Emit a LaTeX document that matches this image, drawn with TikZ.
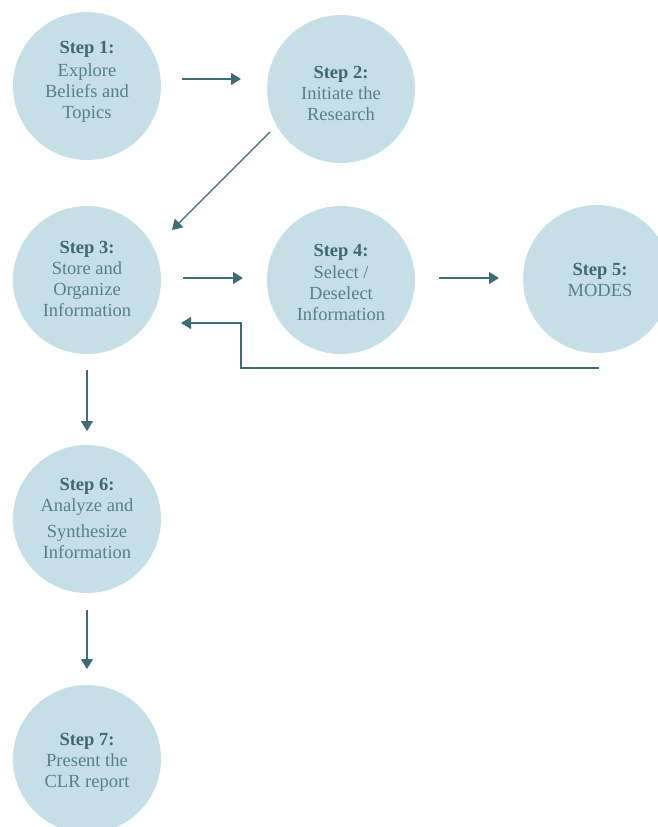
\documentclass[tikz,border=0pt]{standalone}
\usepackage{fontspec}
\setmainfont{Liberation Serif}
\usetikzlibrary{arrows.meta}
\definecolor{circfill}{HTML}{C6DFE7}
\definecolor{arrowcol}{HTML}{3F6D75}
\definecolor{diagcol}{HTML}{5E757A}
\definecolor{txtcol}{HTML}{587F88}
\definecolor{boldcol}{HTML}{41686F}
\tikzset{
  stepcirc/.style={circle, fill=circfill, draw=none, minimum size=148pt, inner sep=0pt},
  steptext/.style={align=center, text=txtcol, inner sep=0pt, font=\fontsize{18.5}{21}\selectfont},
  flowarrow/.style={draw=arrowcol, line width=1.4pt, -{Triangle[length=10pt,width=12pt]}},
  diagarrow/.style={draw=diagcol, line width=1.2pt, -{Triangle[length=10pt,width=12pt]}, arrowcol}
}
\newcommand{\stephead}[1]{{\bfseries\color{boldcol}#1}}
\begin{document}
\begin{tikzpicture}[x=1pt,y=-1pt]
\useasboundingbox (0,0) rectangle (658,827);
\clip (0,0) rectangle (658,827);
\fill[white] (0,0) rectangle (658,827);
% circles
\node[stepcirc] (s1) at (87,86) {};
\node[stepcirc] (s2) at (341,89) {};
\node[stepcirc] (s3) at (87,280) {};
\node[stepcirc] (s4) at (341,280) {};
\node[stepcirc] (s5) at (597,279) {};
\node[stepcirc] (s6) at (87,519) {};
\node[stepcirc] (s7) at (87,759) {};
% texts
\node[steptext] (t1) at (87,82) {\stephead{Step 1:}\\[2pt]Explore\\Beliefs and\\Topics};
\node[steptext] (t2) at (341,93) {\stephead{Step 2:}\\Initiate the\\Research};
\node[steptext] (t3) at (87,279) {\stephead{Step 3:}\\Store and\\Organize\\Information};
\node[steptext] (t4) at (341,282) {\stephead{Step 4:}\\[1pt]Select /\\Deselect\\Information};
\node[steptext] (t5) at (600,280) {\stephead{Step 5:}\\MODES};
\node[steptext] (t6) at (87,518) {\stephead{Step 6:}\\Analyze and\\[5pt]Synthesize\\Information};
\node[steptext] (t7) at (87,762) {\stephead{Step 7:}\\Present the\\CLR report};
% arrow end points
\coordinate (a12s) at (182,79);
\coordinate (a12e) at (241,79);
\coordinate (a23s) at (270,132);
\coordinate (a23e) at (172,230);
\coordinate (a34s) at (183,278);
\coordinate (a34e) at (243,278);
\coordinate (a45s) at (439,278);
\coordinate (a45e) at (499,278);
\coordinate (fbs) at (599,368);
\coordinate (fbc1) at (241,368);
\coordinate (fbc2) at (241,323);
\coordinate (fbe) at (181,323);
\coordinate (a36s) at (87,370);
\coordinate (a36e) at (87,431);
\coordinate (a67s) at (87,610);
\coordinate (a67e) at (87,669);
% arrows
\draw[flowarrow] (a12s) -- (a12e);
\draw[diagarrow] (a23s) -- (a23e);
\draw[flowarrow] (a34s) -- (a34e);
\draw[flowarrow] (a45s) -- (a45e);
\draw[flowarrow] (fbs) -- (fbc1) -- (fbc2) -- (fbe);
\draw[flowarrow] (a36s) -- (a36e);
\draw[flowarrow] (a67s) -- (a67e);
\end{tikzpicture}
\end{document}
